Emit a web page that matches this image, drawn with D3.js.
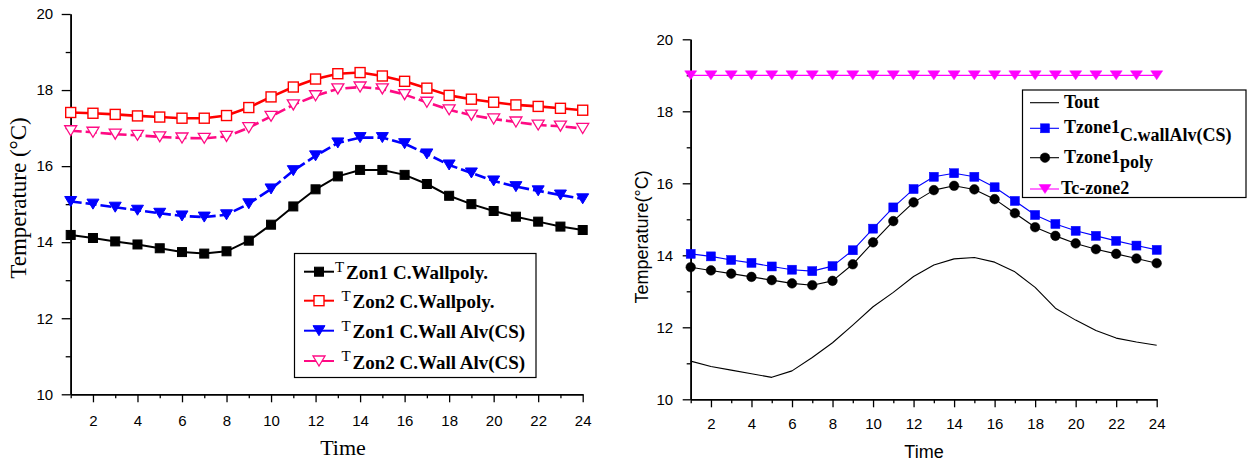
<!DOCTYPE html>
<html>
<head>
<meta charset="utf-8">
<script src="https://cdn.jsdelivr.net/npm/d3@7"></script>
<style>
  html, body { margin: 0; padding: 0; background: #fff; }
  svg { display: block; }
</style>
</head>
<body>
<svg id="chart" width="1258" height="462"></svg>
<script>
// ---------------- DATA ----------------
const hours = d3.range(1, 25);

// Left chart
const tZon1Poly   = [14.19,14.11,14.02,13.94,13.84,13.74,13.70,13.76,14.04,14.46,14.94,15.39,15.73,15.90,15.90,15.77,15.53,15.22,15.00,14.82,14.67,14.54,14.41,14.32];
const tZon2Poly   = [17.41,17.39,17.36,17.32,17.29,17.26,17.26,17.33,17.54,17.82,18.08,18.29,18.43,18.46,18.37,18.23,18.05,17.86,17.76,17.68,17.61,17.57,17.52,17.47];
const tZon1Alv    = [15.07,15.00,14.92,14.84,14.76,14.69,14.66,14.72,15.01,15.40,15.88,16.27,16.61,16.75,16.75,16.59,16.32,16.03,15.82,15.61,15.46,15.35,15.24,15.14];
const tZon2Alv    = [16.93,16.89,16.84,16.81,16.77,16.74,16.73,16.78,17.01,17.31,17.61,17.85,18.03,18.08,18.03,17.88,17.68,17.48,17.34,17.24,17.16,17.08,17.05,16.99];
const leftNames   = ["Zon1 C.Wallpoly.", "Zon2 C.Wallpoly.", "Zon1 C.Wall Alv(CS)", "Zon2 C.Wall Alv(CS)"];

// Right chart
const tOut        = [11.06,10.91,10.81,10.71,10.61,10.79,11.16,11.57,12.06,12.57,12.97,13.41,13.73,13.90,13.94,13.81,13.54,13.11,12.53,12.20,11.91,11.70,11.59,11.50];
const tZone1Alv   = [14.04,13.97,13.87,13.79,13.69,13.60,13.56,13.70,14.14,14.74,15.33,15.84,16.18,16.28,16.18,15.89,15.51,15.12,14.87,14.68,14.54,14.40,14.27,14.15];
const tZone1Poly  = [13.67,13.58,13.49,13.40,13.31,13.22,13.17,13.29,13.75,14.36,14.95,15.47,15.81,15.93,15.83,15.56,15.17,14.78,14.54,14.33,14.17,14.04,13.91,13.78];
const tcZone2     = [19,19,19,19,19,19,19,19,19,19,19,19,19,19,19,19,19,19,19,19,19,19,19,19];

const yMajorTicks = [10, 12, 14, 16, 18, 20];
const yMinorTicks = [11, 13, 15, 17, 19];
const xMajorTicks = [2, 4, 6, 8, 10, 12, 14, 16, 18, 20, 22, 24];
const xMinorTicks = [1, 3, 5, 7, 9, 11, 13, 15, 17, 19, 21, 23];

// ---------------- DRAW ----------------
const svg = d3.select("#chart");
const SANS = "'Liberation Sans', Arial, sans-serif";
const SERIF = "'Liberation Serif', 'Times New Roman', serif";

function drawAxes(g, x, y, o) {
  const yMaj = d3.axisLeft(y).tickValues(yMajorTicks).tickSize(o.majY).tickPadding(o.padY).tickSizeOuter(0).tickFormat(d3.format("d"));
  const yMin = d3.axisLeft(y).tickValues(yMinorTicks).tickSize(o.minY).tickSizeOuter(0).tickFormat("");
  const xMaj = d3.axisBottom(x).tickValues(xMajorTicks).tickSize(o.majX).tickPadding(o.padX).tickSizeOuter(0).tickFormat(d3.format("d"));
  const xMin = d3.axisBottom(x).tickValues(xMinorTicks).tickSize(o.minX).tickSizeOuter(0).tickFormat("");
  const x0 = x.range()[0], y0 = y.range()[0];
  [[yMaj, `translate(${x0},0)`], [yMin, `translate(${x0},0)`], [xMaj, `translate(0,${y0})`], [xMin, `translate(0,${y0})`]]
    .forEach(([ax, tr]) => {
      const a = g.append("g").attr("transform", tr).call(ax);
      a.selectAll("path.domain").attr("stroke", "#000").attr("stroke-width", 1.6);
      a.selectAll("line").attr("stroke", "#000").attr("stroke-width", 1.3);
      a.selectAll("text").attr("fill", "#000").style("font-family", SANS).style("font-size", "15px");
    });
}

function sqMarker(sel, size, fill, stroke, sw) {
  return sel.append("rect").attr("x", -size/2).attr("y", -size/2).attr("width", size).attr("height", size)
    .attr("fill", fill).attr("stroke", stroke).attr("stroke-width", sw);
}
function triMarker(sel, w, h, fill, stroke, sw) {
  return sel.append("path").attr("d", `M${-w/2},${-h/2}L${w/2},${-h/2}L0,${h/2}Z`)
    .attr("fill", fill).attr("stroke", stroke).attr("stroke-width", sw).attr("stroke-linejoin", "miter");
}
function circMarker(sel, r, fill, stroke, sw) {
  return sel.append("circle").attr("r", r).attr("fill", fill).attr("stroke", stroke).attr("stroke-width", sw);
}

function drawSeries(g, x, y, vals, st) {
  const line = d3.line().x((d, i) => x(hours[i])).y(d => y(d));
  g.append("path").datum(vals).attr("d", line).attr("fill", "none")
    .attr("stroke", st.color).attr("stroke-width", st.width)
    .attr("stroke-dasharray", st.dash || null).attr("stroke-linejoin", "round");
  if (st.marker) {
    vals.forEach((v, i) => {
      const m = g.append("g").attr("transform", `translate(${x(hours[i])},${y(v)})`);
      st.marker(m);
    });
  }
}

// ---------- LEFT ----------
const xL = d3.scaleLinear().domain([1, 24]).range([70.7, 582.7]);
const yL = d3.scaleLinear().domain([10, 20]).range([394.3, 14]);
const gL = svg.append("g");
drawAxes(gL, xL, yL, { majY: 9, minY: 5, padY: 8.5, majX: 8, minX: 4, padX: 13.5 });

const leftStyles = [
  { color: "#000", width: 2, marker: m => sqMarker(m, 9, "#000", "#000", 1) },
  { color: "#ff0000", width: 2.6, marker: m => sqMarker(m, 10, "#fff", "#ff0000", 1.4) },
  { color: "#0000ff", width: 2.6, dash: "11,4", marker: m => triMarker(m, 12, 10, "#0000ff", "#0000ff", 1) },
  { color: "#ff0a84", width: 2.6, dash: "11,4", marker: m => triMarker(m, 12, 10, "#fff", "#ff0a84", 1.3) }
];
const leftData = [tZon1Poly, tZon2Poly, tZon1Alv, tZon2Alv];
leftData.forEach((vals, i) => drawSeries(gL, xL, yL, vals, leftStyles[i]));

gL.append("text").attr("transform", "translate(26,198) rotate(-90)").attr("text-anchor", "middle")
  .style("font-family", SERIF).style("font-size", "23px").text("Temperature (°C)");
gL.append("text").attr("x", 343).attr("y", 455).attr("text-anchor", "middle")
  .style("font-family", SERIF).style("font-size", "22px").text("Time");

// left legend
const lg = gL.append("g");
lg.append("rect").attr("x", 294.5).attr("y", 253.5).attr("width", 241.5).attr("height", 124)
  .attr("fill", "#fff").attr("stroke", "#000").attr("stroke-width", 1.2);
const leftRowY = [271.7, 300.7, 330.7, 361];
const leftTX = [335, 341.5, 341.5, 341.5];
leftNames.forEach((name, i) => {
  const r = lg.append("g").attr("transform", `translate(0,${leftRowY[i]})`);
  const st = leftStyles[i];
  r.append("line").attr("x1", 304).attr("x2", 334).attr("y1", 0).attr("y2", 0)
    .attr("stroke", st.color).attr("stroke-width", 2);
  const m = r.append("g").attr("transform", "translate(319,0)");
  st.marker(m);
  r.append("text").attr("x", leftTX[i]).attr("y", 0)
    .style("font-family", SERIF).style("font-size", "15px").text("T");
  r.append("text").attr("x", leftTX[i] + 11).attr("y", 7.5)
    .style("font-family", SERIF).style("font-size", "19px").style("font-weight", "bold").text(name);
});

// ---------- RIGHT ----------
const xR = d3.scaleLinear().domain([1, 24]).range([690.7, 1156.7]);
const yR = d3.scaleLinear().domain([10, 20]).range([399.3, 39.3]);
const gR = svg.append("g");
drawAxes(gR, xR, yR, { majY: 8, minY: 4, padY: 9.5, majX: 8, minX: 4, padX: 11 });

const rightStyles = [
  { color: "#000", width: 1.1 },
  { color: "#0000ff", width: 1.1, marker: m => sqMarker(m, 9, "#0000ff", "#0000ff", 0.5) },
  { color: "#000", width: 1.1, marker: m => circMarker(m, 4.8, "#000", "#000", 0.5) },
  { color: "#ff00ff", width: 1.3, marker: m => triMarker(m, 12, 9, "#ff00ff", "#ff00ff", 0.5) }
];
const rightData = [tOut, tZone1Alv, tZone1Poly, tcZone2];
rightData.forEach((vals, i) => drawSeries(gR, xR, yR, vals, rightStyles[i]));

gR.append("text").attr("transform", "translate(648,237) rotate(-90)").attr("text-anchor", "middle")
  .style("font-family", SANS).style("font-size", "18px").text("Temperature(°C)");
gR.append("text").attr("x", 924).attr("y", 458).attr("text-anchor", "middle")
  .style("font-family", SANS).style("font-size", "18px").text("Time");

// right legend
const rg = gR.append("g");
rg.append("rect").attr("x", 1022.5).attr("y", 90).attr("width", 223.5).attr("height", 107.5)
  .attr("fill", "#fff").attr("stroke", "#000").attr("stroke-width", 1.2);
const rightLegend = [
  { main: "Tout", sub: "", rowY: 102.7, tx: 1064, base: 5.6, subDy: 0 },
  { main: "Tzone1", sub: "C.wallAlv(CS)", rowY: 128.3, tx: 1064, base: 5, subDy: 8 },
  { main: "Tzone1", sub: "poly", rowY: 157.7, tx: 1064, base: 5, subDy: 5 },
  { main: "Tc-zone2", sub: "", rowY: 189, tx: 1061, base: 4.5, subDy: 0 }
];
rightLegend.forEach((e, i) => {
  const r = rg.append("g").attr("transform", `translate(0,${e.rowY})`);
  const st = rightStyles[i];
  r.append("line").attr("x1", 1030).attr("x2", 1059).attr("y1", 0).attr("y2", 0)
    .attr("stroke", st.color).attr("stroke-width", 1.1);
  if (st.marker) st.marker(r.append("g").attr("transform", "translate(1045,0)"));
  const t = r.append("text").attr("x", e.tx).attr("y", e.base)
    .style("font-family", SERIF).style("font-size", "18px").style("font-weight", "bold");
  t.append("tspan").text(e.main);
  if (e.sub) t.append("tspan").attr("dy", e.subDy).text(e.sub);
});
</script>
</body>
</html>
